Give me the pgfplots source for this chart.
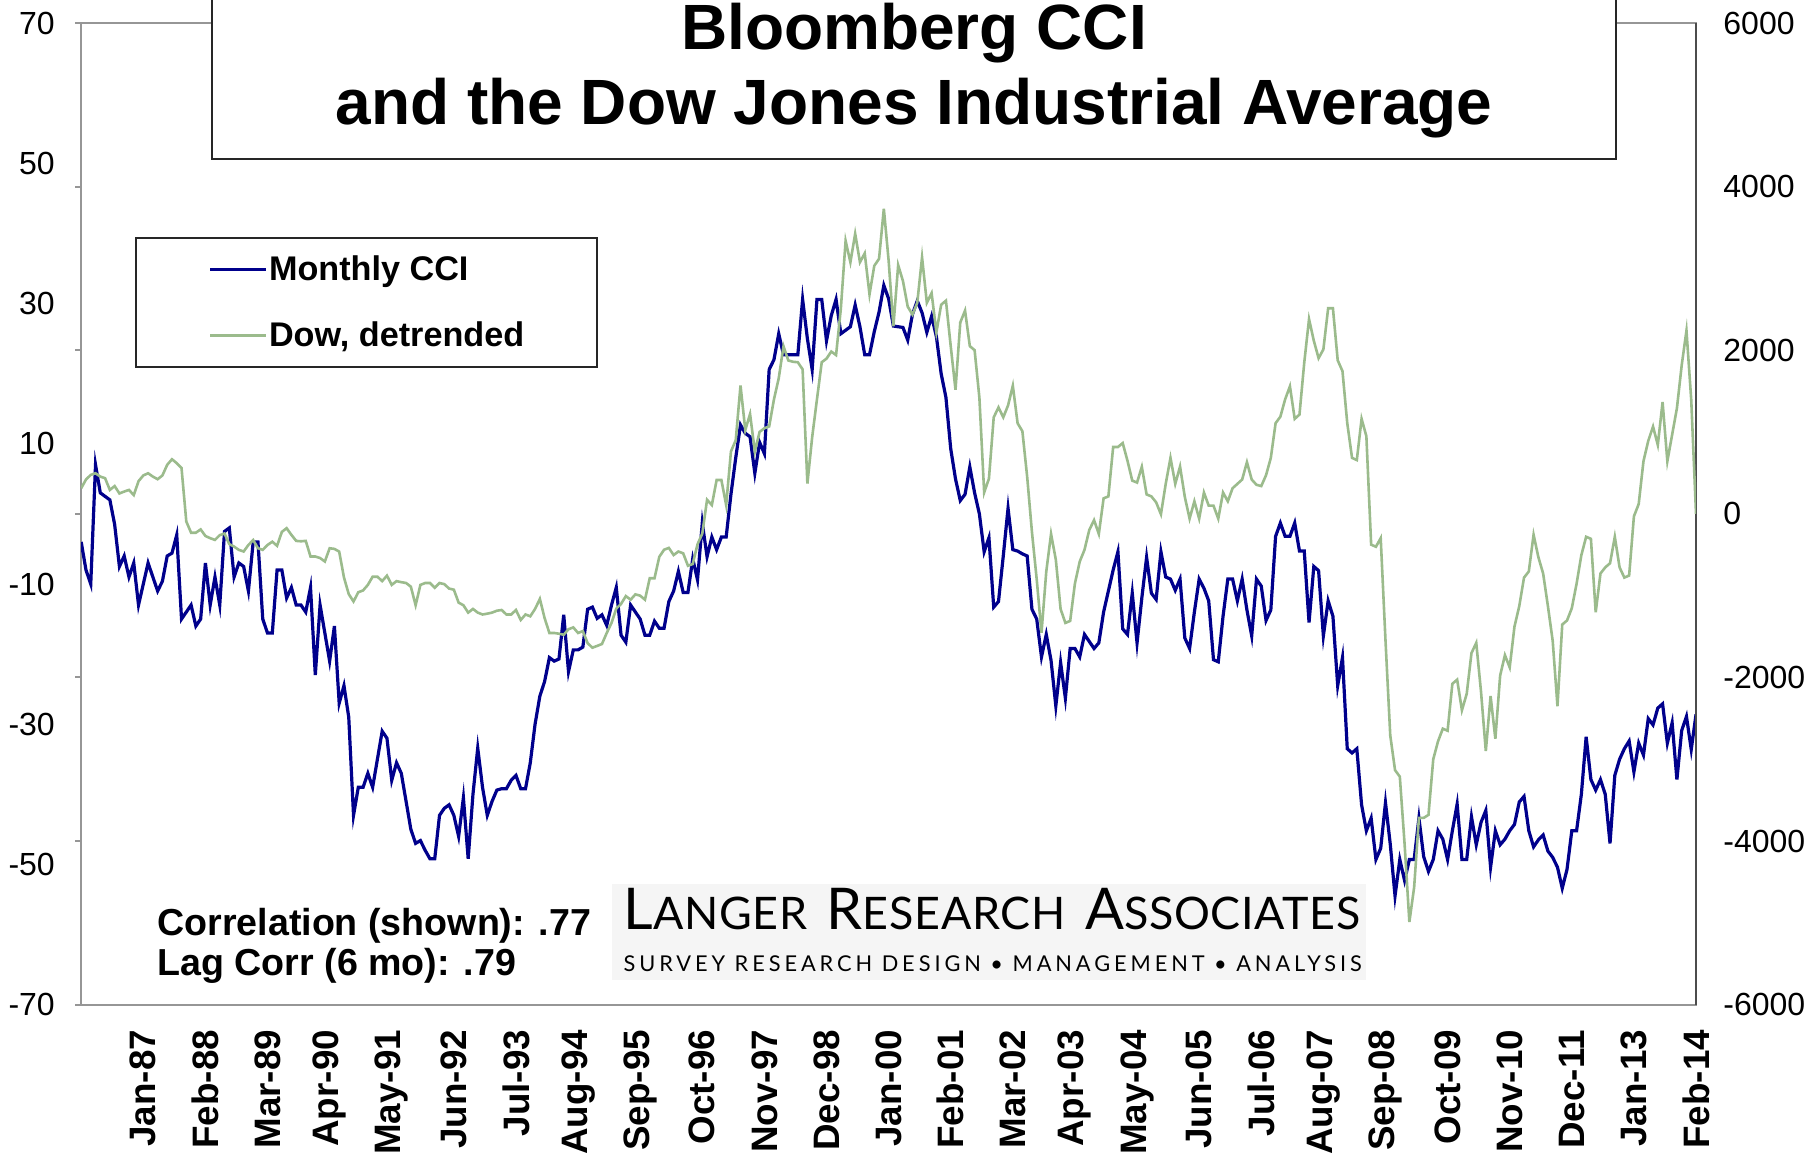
\documentclass[border=0pt]{standalone}
\usepackage{fontspec}
\setmainfont{Liberation Sans}
\newfontfamily\logofont{Lato}
\usepackage{pgfplots}
\pgfplotsset{compat=1.18}
\definecolor{cciblue}{RGB}{0,0,140}
\definecolor{dowgreen}{RGB}{155,187,140}
\definecolor{axisgray}{RGB}{150,150,150}

\begin{document}
\begin{tikzpicture}
\begin{axis}[
  at={(40.6pt,76.2pt)}, anchor=south west,
  width=807.4pt, height=490.7pt, scale only axis,
  xmin=0, xmax=338, ymin=-70, ymax=70,
  axis line style={draw=axisgray, line width=1pt},
  xtick={13,26,...,338},
  xticklabels={Jan-87,Feb-88,Mar-89,Apr-90,May-91,Jun-92,Jul-93,Aug-94,Sep-95,Oct-96,Nov-97,Dec-98,Jan-00,Feb-01,Mar-02,Apr-03,May-04,Jun-05,Jul-06,Aug-07,Sep-08,Oct-09,Nov-10,Dec-11,Jan-13,Feb-14},
  xticklabel style={rotate=90, anchor=east, inner sep=0pt, font=\bfseries\fontsize{18.4}{20}\selectfont},
  xticklabel shift=12.5pt,
  ytick={-70,-50,-30,-10,10,30,50,70},
  yticklabels={-70,-50,-30,-10,10,30,50,70},
  yticklabel style={anchor=east, inner sep=0pt, font=\fontsize{16}{18}\selectfont},
  yticklabel shift=13pt,
  major tick length=0pt,
  legend style={at={(0.0332,0.7819)}, anchor=north west, draw=black!85, line width=1pt, fill=white,
    inner xsep=36.5pt, inner ysep=8.6pt, row sep=19.3pt, column sep=0.5pt,
    font=\bfseries\fontsize{17.1}{20}\selectfont, nodes={inner sep=0pt}},
  legend cell align=left,
  legend image code/.code={\draw[#1] (0pt,0pt) -- (28pt,0pt);},
]
\addplot[cciblue, line width=1.6pt] coordinates {
(0,-4) (1,-8) (2,-10) (3,7) (4,3) (5,2.5) (6,2) (7,-1.5) (8,-7.5) (9,-6)
(10,-9) (11,-7) (12,-13) (13,-10) (14,-7) (15,-9) (16,-11) (17,-9.6) (18,-6) (19,-5.6)
(20,-3) (21,-15) (22,-14) (23,-13) (24,-16) (25,-15) (26,-7) (27,-13) (28,-9) (29,-13)
(30,-2.5) (31,-2) (32,-9) (33,-7) (34,-7.5) (35,-11) (36,-4) (37,-4) (38,-15) (39,-17)
(40,-17) (41,-8) (42,-8) (43,-12) (44,-10.5) (45,-13) (46,-13) (47,-14) (48,-10.5) (49,-23)
(50,-13) (51,-17) (52,-21) (53,-16) (54,-27) (55,-24.5) (56,-29) (57,-43) (58,-39) (59,-39)
(60,-37) (61,-39) (62,-35) (63,-31) (64,-32) (65,-38) (66,-35.5) (67,-37) (68,-41) (69,-45)
(70,-47) (71,-46.6) (72,-48) (73,-49.2) (74,-49.2) (75,-43) (76,-42) (77,-41.5) (78,-43) (79,-46)
(80,-40.5) (81,-49.2) (82,-40) (83,-33.4) (84,-39) (85,-43) (86,-41) (87,-39.4) (88,-39.2) (89,-39.2)
(90,-38) (91,-37.3) (92,-39.2) (93,-39.2) (94,-35.5) (95,-30) (96,-26) (97,-23.9) (98,-20.5) (99,-21)
(100,-20.7) (101,-14.4) (102,-22.5) (103,-19.4) (104,-19.4) (105,-19) (106,-13.6) (107,-13.3) (108,-14.9) (109,-14.4)
(110,-15.9) (111,-13) (112,-10.5) (113,-17.3) (114,-18.3) (115,-13) (116,-14) (117,-15) (118,-17.3) (119,-17.3)
(120,-15.3) (121,-16.3) (122,-16.3) (123,-12.5) (124,-11) (125,-8.2) (126,-11.2) (127,-11.2) (128,-6.4) (129,-9.4)
(130,-1.3) (131,-6.1) (132,-3.3) (133,-5.1) (134,-3.3) (135,-3.3) (136,2.8) (137,8) (138,12.7) (139,11.5)
(140,11) (141,5.8) (142,10.2) (143,8.6) (144,20.6) (145,22) (146,25.7) (147,22.7) (148,22.7) (149,22.7)
(150,22.7) (151,30.6) (152,25) (153,20.6) (154,30.6) (155,30.6) (156,24.7) (157,28.3) (158,30.6) (159,25.7)
(160,26.2) (161,26.7) (162,29.8) (163,26.7) (164,22.7) (165,22.7) (166,26) (167,28.8) (168,32.6) (169,30.7)
(170,26.8) (171,26.7) (172,26.6) (173,24.8) (174,28.5) (175,30.4) (176,28.7) (177,25.9) (178,28.2) (179,25.3)
(180,20) (181,16.6) (182,9.3) (183,5) (184,1.9) (185,2.8) (186,6.7) (187,3) (188,0) (189,-5.4)
(190,-3.4) (191,-13.3) (192,-12.5) (193,-6) (194,0.8) (195,-5.1) (196,-5.3) (197,-5.7) (198,-6) (199,-13.6)
(200,-15) (201,-20.4) (202,-17.2) (203,-20.9) (204,-27.4) (205,-21.2) (206,-26.3) (207,-19.2) (208,-19.2) (209,-20.4)
(210,-17.2) (211,-18.2) (212,-19.2) (213,-18.4) (214,-14) (215,-11) (216,-8) (217,-5.4) (218,-16.4) (219,-17.2)
(220,-11.3) (221,-18.4) (222,-12) (223,-6.2) (224,-11.3) (225,-12.2) (226,-5.4) (227,-9) (228,-9.3) (229,-10.9)
(230,-9.3) (231,-17.7) (232,-19.2) (233,-14) (234,-9.3) (235,-10.6) (236,-12.4) (237,-20.8) (238,-21.1) (239,-14.6)
(240,-9.3) (241,-9.3) (242,-12.4) (243,-9.3) (244,-13.7) (245,-17.4) (246,-9.3) (247,-10.3) (248,-15.2) (249,-13.7)
(250,-3.2) (251,-1.3) (252,-3.2) (253,-3.2) (254,-1.3) (255,-5.3) (256,-5.3) (257,-15.5) (258,-7.5) (259,-8.1)
(260,-17.4) (261,-12.4) (262,-14.6) (263,-24.5) (264,-20.5) (265,-33.5) (266,-34.1) (267,-33.5) (268,-41.5) (269,-45.2)
(270,-43.4) (271,-49.3) (272,-47.7) (273,-41.2) (274,-47.1) (275,-54.5) (276,-49.3) (277,-52.3) (278,-49.3) (279,-49.3)
(280,-43.4) (281,-48.9) (282,-51) (283,-49.3) (284,-45.2) (285,-46.4) (286,-49.3) (287,-45.2) (288,-41.4) (289,-49.3)
(290,-49.3) (291,-43.2) (292,-47.2) (293,-44) (294,-42.3) (295,-50.4) (296,-45.2) (297,-47.2) (298,-46.4) (299,-45.2)
(300,-44.3) (301,-41.1) (302,-40.3) (303,-45.2) (304,-47.5) (305,-46.5) (306,-45.8) (307,-48.1) (308,-49) (309,-50.4)
(310,-53.4) (311,-50.7) (312,-45.2) (313,-45.2) (314,-40) (315,-31.8) (316,-37.9) (317,-39.4) (318,-37.9) (319,-40)
(320,-47) (321,-37.3) (322,-35) (323,-33.5) (324,-32.4) (325,-36.8) (326,-32.7) (327,-34.4) (328,-29.2) (329,-30.1)
(330,-27.7) (331,-27.1) (332,-32.7) (333,-29.8) (334,-37.9) (335,-30.9) (336,-28.9) (337,-33.6) (338,-28.6)
};
\addlegendentry{Monthly CCI}
\addlegendimage{dowgreen, line width=1.3pt}
\addlegendentry{Dow, detrended}
\end{axis}

\begin{axis}[
  at={(40.6pt,76.2pt)}, anchor=south west,
  width=807.4pt, height=490.7pt, scale only axis,
  xmin=0, xmax=338, ymin=-6000, ymax=6000,
  axis x line=none, axis y line*=right,
  axis line style={draw=black!70, line width=1pt},
  ytick={-6000,-4000,-2000,0,2000,4000,6000},
  yticklabels={-6000,-4000,-2000,0,2000,4000,6000},
  yticklabel style={anchor=west, inner sep=0pt, font=\fontsize{16}{18}\selectfont},
  yticklabel shift=13.5pt,
  major tick length=0pt,
]
\addplot[dowgreen, line width=1.3pt] coordinates {
(0,314) (1,420) (2,477) (3,497) (4,456) (5,436) (6,293) (7,340) (8,250) (9,273)
(10,293) (11,230) (12,400) (13,470) (14,497) (15,456) (16,424) (17,470) (18,600) (19,668)
(20,620) (21,560) (22,-94) (23,-230) (24,-230) (25,-190) (26,-270) (27,-297) (28,-318) (29,-260)
(30,-240) (31,-370) (32,-400) (33,-440) (34,-460) (35,-380) (36,-320) (37,-420) (38,-440) (39,-380)
(40,-340) (41,-390) (42,-220) (43,-175) (44,-257) (45,-330) (46,-335) (47,-330) (48,-521) (49,-521)
(50,-540) (51,-582) (52,-420) (53,-428) (54,-461) (55,-777) (56,-981) (57,-1071) (58,-958) (59,-936)
(60,-868) (61,-768) (62,-768) (63,-822) (64,-755) (65,-868) (66,-822) (67,-835) (68,-845) (69,-890)
(70,-1117) (71,-868) (72,-845) (73,-845) (74,-904) (75,-845) (76,-859) (77,-913) (78,-927) (79,-1085)
(80,-1117) (81,-1207) (82,-1162) (83,-1207) (84,-1230) (85,-1220) (86,-1207) (87,-1184) (88,-1175) (89,-1230)
(90,-1230) (91,-1175) (92,-1297) (93,-1230) (94,-1252) (95,-1162) (96,-1040) (97,-1275) (98,-1456) (99,-1456)
(100,-1465) (101,-1478) (102,-1410) (103,-1388) (104,-1456) (105,-1433) (106,-1580) (107,-1636) (108,-1614) (109,-1591)
(110,-1456) (111,-1333) (112,-1158) (113,-1100) (114,-1005) (115,-1049) (116,-984) (117,-1000) (118,-1049) (119,-787)
(120,-787) (121,-525) (122,-438) (123,-416) (124,-503) (125,-460) (126,-482) (127,-634) (128,-613) (129,-372)
(130,-241) (131,173) (132,108) (133,414) (134,414) (135,108) (136,763) (137,900) (138,1571) (139,1025)
(140,1221) (141,763) (142,1003) (143,1047) (144,1069) (145,1400) (146,1658) (147,2051) (148,1876) (149,1860)
(150,1854) (151,1767) (152,370) (153,938) (154,1400) (155,1854) (156,1898) (157,1985) (158,1942) (159,2509)
(160,3339) (161,3077) (162,3426) (163,3077) (164,3186) (165,2684) (166,3033) (167,3120) (168,3732) (169,3100)
(170,2293) (171,3042) (172,2848) (173,2534) (174,2437) (175,2582) (176,3138) (177,2582) (178,2700) (179,2220)
(180,2558) (181,2607) (182,2051) (183,1519) (184,2341) (185,2486) (186,2051) (187,2002) (188,1422) (189,262)
(190,431) (191,1181) (192,1302) (193,1181) (194,1326) (195,1567) (196,1108) (197,1011) (198,455) (199,-221)
(200,-801) (201,-1454) (202,-705) (203,-245) (204,-560) (205,-1164) (206,-1333) (207,-1309) (208,-850) (209,-584)
(210,-439) (211,-197) (212,-76) (213,-245) (214,190) (215,214) (216,818) (217,818) (218,866) (219,649)
(220,407) (221,383) (222,576) (223,238) (224,214) (225,141) (226,-4) (227,367) (228,685) (229,367)
(230,579) (231,207) (232,-58) (233,154) (234,-58) (235,261) (236,101) (237,101) (238,-58) (239,261)
(240,154) (241,314) (242,367) (243,420) (244,632) (245,420) (246,356) (247,340) (248,473) (249,685)
(250,1109) (251,1189) (252,1401) (253,1560) (254,1162) (255,1215) (256,1851) (257,2382) (258,2117) (259,1904)
(260,2011) (261,2514) (262,2514) (263,1878) (264,1745) (265,1109) (266,685) (267,658) (268,1162) (269,950)
(270,-376) (271,-402) (272,-296) (273,-1543) (274,-2709) (275,-3133) (276,-3213) (277,-4035) (278,-4990) (279,-4565)
(280,-3717) (281,-3717) (282,-3680) (283,-3000) (284,-2780) (285,-2626) (286,-2651) (287,-2077) (288,-2027) (289,-2401)
(290,-2201) (291,-1702) (292,-1577) (293,-2176) (294,-2900) (295,-2226) (296,-2750) (297,-1977) (298,-1727) (299,-1877)
(300,-1378) (301,-1128) (302,-779) (303,-704) (304,-255) (305,-529) (306,-729) (307,-1128) (308,-1552) (309,-2351)
(310,-1353) (311,-1303) (312,-1153) (313,-854) (314,-504) (315,-280) (316,-305) (317,-1203) (318,-729) (319,-654)
(320,-604) (321,-280) (322,-654) (323,-779) (324,-754) (325,-30) (326,120) (327,644) (328,893) (329,1068)
(330,843) (331,1367) (332,644) (333,968) (334,1292) (335,1817) (336,2241) (337,1392) (338,0)
};
\end{axis}

% left axis tick marks (6 intervals)
\foreach \yy in {76.2,157.98,239.77,321.55,403.33,485.12,566.9}
  \draw[axisgray, line width=1pt] (40.6pt,\yy pt) -- (37.3pt,\yy pt);

% title box
\draw[black!85, line width=1pt, fill=white] (106pt,499.1pt) rectangle (808pt,600pt);
\node[anchor=base, inner sep=0pt, font=\bfseries\fontsize{32}{38}\selectfont] at (457pt,553.5pt) {Bloomberg CCI};
\node[anchor=base, inner sep=0pt, font=\bfseries\fontsize{32}{38}\selectfont] at (457pt,516.3pt) {and the Dow Jones Industrial Average};

% correlation text
\node[anchor=base west, inner sep=0pt, font=\bfseries\fontsize{18.8}{20}\selectfont] at (78.5pt,111pt) {Correlation (shown): .77};
\node[anchor=base west, inner sep=0pt, font=\bfseries\fontsize{18.8}{20}\selectfont] at (78.5pt,90.8pt) {Lag Corr (6 mo): .79};

% logo
\fill[black!4] (306pt,88.5pt) rectangle (683pt,136.5pt);
\node[anchor=base west, inner sep=0pt] at (311.6pt,113.8pt) {\resizebox{368.5pt}{!}{\logofont\addfontfeature{LetterSpace=1.5}{\fontsize{26.3}{30}\selectfont L}{\fontsize{20.5}{24}\selectfont ANGER}\hspace{9pt}{\fontsize{26.3}{30}\selectfont R}{\fontsize{20.5}{24}\selectfont ESEARCH}\hspace{9pt}{\fontsize{26.3}{30}\selectfont A}{\fontsize{20.5}{24}\selectfont SSOCIATES}}};
\node[anchor=base west, inner sep=0pt] at (311.6pt,92.9pt) {\resizebox{369pt}{!}{\logofont\fontsize{10.8}{12}\selectfont\addfontfeature{LetterSpace=18}SURVEY RESEARCH DESIGN {\textbullet} MANAGEMENT {\textbullet} ANALYSIS}};

\pgfresetboundingbox
\useasboundingbox (0pt,0pt) rectangle (909.5pt,578.5pt);
\end{tikzpicture}
\end{document}
